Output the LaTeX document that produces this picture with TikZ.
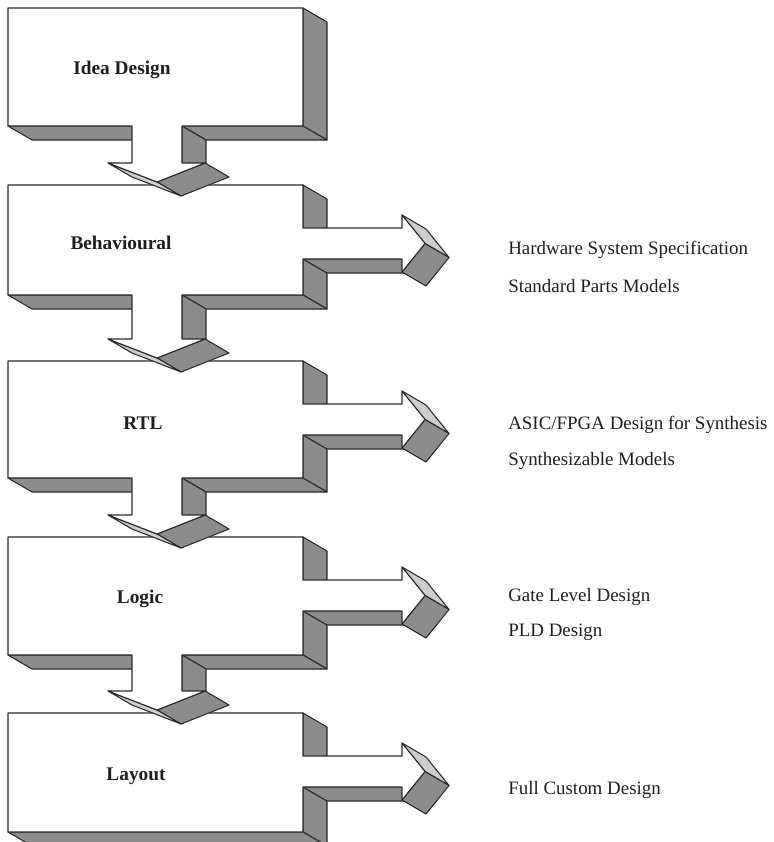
\documentclass[tikz,border=0pt]{standalone}
\usepackage{fontspec}
\setmainfont{Liberation Serif}
\usetikzlibrary{calc}
\definecolor{cVien}{HTML}{2A2A2A}
\definecolor{cXamMat}{HTML}{8C8C8C}
\definecolor{cXamNhat}{HTML}{CDCDCD}
\definecolor{cChu}{HTML}{1E1E1E}
\def\Lidea{Idea Design}
\def\Lbehav{Behavioural}
\def\Lrtl{RTL}
\def\Llogic{Logic}
\def\Llayout{Layout}
\def\Lhw{Hardware System Specification}
\def\Lstd{Standard Parts Models}
\def\Lasic{ASIC/FPGA Design for Synthesis}
\def\Lsynth{Synthesizable Models}
\def\Lgate{Gate Level Design}
\def\Lpld{PLD Design}
\def\Lfull{Full Custom Design}

% do sau cua khoi (lech sang phai, xuong duoi)
\def\dX{24} \def\dY{14}

% mat ben: canh #2--#3 keo theo do sau
\newcommand{\matBen}[3]{\filldraw[#1] #2 -- #3 -- ($#3+(\dX,\dY)$) -- ($#2+(\dX,\dY)$) -- cycle;}

% #1 mep tren, #2 mep duoi, #3 mep tren hop ke (0 = khong co mui ten xuong), #4 = 1 neu co mui ten ngang
\newcommand{\veKhoi}[4]{%
  \pgfmathsetmacro\yTrA{#1+43}\pgfmathsetmacro\yTrB{#1+74}%
  \pgfmathsetmacro\yCanhA{#1+30}\pgfmathsetmacro\yCanhB{#1+87}%
  \pgfmathsetmacro\yGiua{#1+58.5}%
  \pgfmathsetmacro\yThan{#3-22}\pgfmathsetmacro\yMui{#3-3}%
  \ifnum#4=1
    \matBen{matXam}{(303,#1)}{(303,\yTrA)}
    \matBen{matXam}{(303,\yTrB)}{(303,#2)}
    \matBen{matXam}{(402,\yTrB)}{(303,\yTrB)}
    \matBen{matSang}{(402,\yCanhA)}{(425,\yGiua)}
    \matBen{matXam}{(425,\yGiua)}{(402,\yCanhB)}
    \def\duongPhai{-- (303,\yTrA) -- (402,\yTrA) -- (402,\yCanhA) -- (425,\yGiua)
      -- (402,\yCanhB) -- (402,\yTrB) -- (303,\yTrB)}
  \else
    \matBen{matXam}{(303,#1)}{(303,#2)}
    \def\duongPhai{}
  \fi
  \ifnum#3>0
    \matBen{matXam}{(303,#2)}{(182,#2)}
    \matBen{matXam}{(132,#2)}{(8,#2)}
    \matBen{matXam}{(182,#2)}{(182,\yThan)}
    \matBen{matXam}{(205,\yThan)}{(157,\yMui)}
    \matBen{matSang}{(157,\yMui)}{(108,\yThan)}
    \def\duongDuoi{-- (182,#2) -- (182,\yThan) -- (205,\yThan) -- (157,\yMui)
      -- (108,\yThan) -- (132,\yThan) -- (132,#2)}
  \else
    \matBen{matXam}{(303,#2)}{(8,#2)}
    \def\duongDuoi{}
  \fi
  % mat truoc ve sau cung
  \filldraw[matTruoc] (8,#1) -- (303,#1) \duongPhai -- (303,#2) \duongDuoi -- (8,#2) -- cycle;
}

\begin{document}
\begin{tikzpicture}[
  x=0.75pt, y=-0.75pt,
  matXam/.style={fill=cXamMat, draw=cVien, line width=0.8pt, line join=round},
  matSang/.style={fill=cXamNhat, draw=cVien, line width=0.8pt, line join=round},
  matTruoc/.style={fill=white, draw=cVien, line width=0.8pt, line join=round},
  chuDam/.style={font=\fontsize{14.5}{17}\selectfont\bfseries, text=cChu, inner sep=0pt},
  chuGhi/.style={font=\fontsize{14.2}{17}\selectfont, text=cChu, anchor=west, inner sep=0pt}
]
\useasboundingbox (0,0) rectangle (774,842);

% ── Nam khoi, ve tu duoi len de mui ten xuong de len hop ke ──
\veKhoi{713}{832}{0}{1}
\veKhoi{537}{655}{713}{1}
\veKhoi{361}{478}{537}{1}
\veKhoi{185}{295}{361}{1}
\veKhoi{8}{126}{185}{0}

% ── Ten cac muc ──
\node[chuDam] (idea)   at (122,70)  {\Lidea};
\node[chuDam] (behav)  at (121,243) {\Lbehav};
\node[chuDam] (rtl)    at (143,423) {\Lrtl};
\node[chuDam] (logic)  at (140,599) {\Llogic};
\node[chuDam] (layout) at (136,776) {\Llayout};

% ── Ghi chu ben phai ──
\node[chuGhi] (hw)    at (508,250) {\Lhw};
\node[chuGhi] (std)   at (508,286) {\Lstd};
\node[chuGhi] (asic)  at (508,425) {\Lasic};
\node[chuGhi] (synth) at (508,461) {\Lsynth};
\node[chuGhi] (gate)  at (508,597) {\Lgate};
\node[chuGhi] (pld)   at (508,632) {\Lpld};
\node[chuGhi] (full)  at (508,790) {\Lfull};

\end{tikzpicture}
\end{document}
